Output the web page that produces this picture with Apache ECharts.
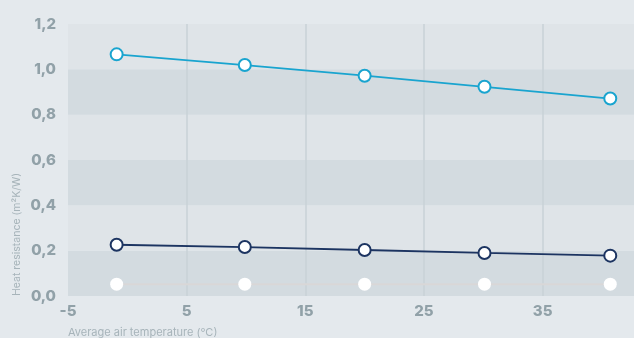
<!DOCTYPE html>
<html>
<head>
<meta charset="utf-8">
<script src="https://cdn.jsdelivr.net/npm/echarts@6/dist/echarts.min.js"></script>
<style>
  html, body { margin: 0; padding: 0; background: #e4e9ed; }
  #chart { width: 634px; height: 338px; }
</style>
</head>
<body>
<div id="chart"></div>
<script>
// Average air temperature (°C) at each measurement
const temperatures = [-0.9, 9.9, 20.0, 30.1, 40.7];
// Heat resistance (m²K/W) for each construction
const upperSeries = [1.066, 1.019, 0.972, 0.923, 0.871];
const middleSeries = [0.226, 0.216, 0.203, 0.190, 0.178];
const lowerSeries = [0.052, 0.052, 0.052, 0.052, 0.052];
// Axis ticks
const xTicks = [-5, 5, 15, 25, 35];
const yTicks = [0, 0.2, 0.4, 0.6, 0.8, 1.0, 1.2];

const pairs = vals => temperatures.map((t, i) => [t, vals[i]]);
const labelFont = { color: '#91a1a8', fontFamily: 'Inter', fontWeight: 800, fontSize: 15 };

const chart = echarts.init(document.getElementById('chart'));
chart.setOption({
  backgroundColor: '#e4e9ed',
  animation: false,
  grid: { left: 68, right: 0, top: 24, bottom: 42, outerBoundsMode: 'none', containLabel: false },
  xAxis: {
    type: 'value',
    min: xTicks[0],
    max: 42.7,
    interval: 10,
    axisLine: { show: false },
    axisTick: { show: false },
    axisLabel: Object.assign({
      margin: 8,
      formatter: v => xTicks.includes(Math.round(v * 10) / 10) ? String(v) : ''
    }, labelFont),
    splitLine: {
      show: true,
      lineStyle: { color: ['rgba(0,0,0,0)', '#c8d2d7', '#c8d2d7', '#c8d2d7', '#c8d2d7'], width: 1.5 }
    }
  },
  yAxis: {
    type: 'value',
    min: yTicks[0],
    max: yTicks[yTicks.length - 1],
    interval: 0.2,
    axisLine: { show: false },
    axisTick: { show: false },
    axisLabel: Object.assign({
      margin: 12,
      formatter: v => v.toFixed(1).replace('.', ',')
    }, labelFont),
    splitLine: { show: false },
    splitArea: { show: true, areaStyle: { color: ['#d3dbe0', '#dfe4e8'] } }
  },
  graphic: [
    {
      type: 'text',
      left: 68, top: 327,
      style: { text: 'Average air temperature (°C)', fill: '#a7b4ba', font: '11px Inter' }
    },
    {
      type: 'text',
      x: 11, y: 296,
      rotation: Math.PI / 2,
      style: { text: 'Heat resistance (m²K/W)', fill: '#a7b4ba', font: '10.5px Inter',
               textAlign: 'left', textVerticalAlign: 'top' }
    }
  ],
  series: [
    {
      type: 'line',
      data: pairs(lowerSeries),
      symbol: 'circle', symbolSize: 13,
      lineStyle: { color: '#d9d7d7', width: 2 },
      itemStyle: { color: '#ffffff', borderColor: '#ffffff', borderWidth: 0 },
      z: 2
    },
    {
      type: 'line',
      data: pairs(middleSeries),
      symbol: 'circle', symbolSize: 12,
      lineStyle: { color: '#1c3461', width: 1.8 },
      itemStyle: { color: '#ffffff', borderColor: '#1c3461', borderWidth: 2 },
      z: 3
    },
    {
      type: 'line',
      data: pairs(upperSeries),
      symbol: 'circle', symbolSize: 12,
      lineStyle: { color: '#19a4cf', width: 1.8 },
      itemStyle: { color: '#ffffff', borderColor: '#19a4cf', borderWidth: 2 },
      z: 3
    }
  ]
});
</script>
</body>
</html>
